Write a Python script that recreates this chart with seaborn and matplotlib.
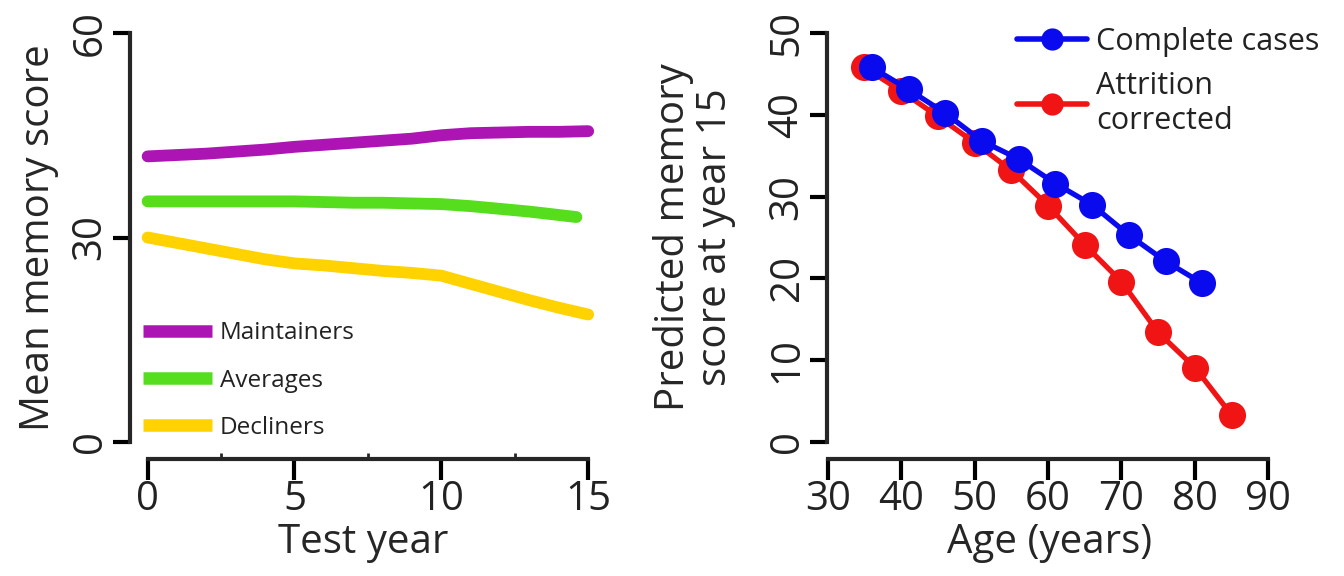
import numpy as np
import pandas as pd
import matplotlib
matplotlib.use("Agg")
import matplotlib.pyplot as plt
import seaborn as sns
from matplotlib.lines import Line2D

# ---------------- data ----------------
test_year = list(range(16))
maintainers = [41.9, 42.1, 42.3, 42.6, 42.9, 43.3, 43.6, 43.9, 44.2, 44.5, 45.0, 45.3, 45.4, 45.5, 45.5, 45.6]
averages_year = [0, 1, 2, 3, 4, 5, 6, 7, 8, 9, 10, 11, 12, 13, 14, 14.6]
averages = [35.3, 35.3, 35.3, 35.3, 35.3, 35.3, 35.2, 35.1, 35.1, 35.0, 34.9, 34.6, 34.2, 33.8, 33.3, 33.0]
decliners = [30.0, 29.2, 28.4, 27.6, 26.8, 26.2, 25.9, 25.5, 25.1, 24.8, 24.4, 23.2, 22.0, 20.8, 19.7, 18.7]

age_complete = [36, 41, 46, 51, 56, 61, 66, 71, 76, 81]
score_complete = [45.8, 43.1, 40.2, 36.8, 34.6, 31.6, 29.0, 25.3, 22.1, 19.4]
age_attrition = [35, 40, 45, 50, 55, 60, 65, 70, 75, 80, 85]
score_attrition = [45.8, 42.9, 39.8, 36.6, 33.2, 28.9, 24.1, 19.6, 13.4, 9.1, 3.3]

left_groups = ["Maintainers", "Averages", "Decliners"]
left_colors = ["#AC14B4", "#55DD1E", "#FFD200"]
right_groups = ["Complete cases", "Attrition\ncorrected"]
right_colors = ["#0A0AEE", "#F01414"]

df_left = pd.concat([
    pd.DataFrame({"year": test_year, "score": maintainers, "group": "Maintainers"}),
    pd.DataFrame({"year": averages_year, "score": averages, "group": "Averages"}),
    pd.DataFrame({"year": test_year, "score": decliners, "group": "Decliners"}),
])
df_right = pd.concat([
    pd.DataFrame({"age": age_attrition, "score": score_attrition, "group": right_groups[1]}),
    pd.DataFrame({"age": age_complete, "score": score_complete, "group": right_groups[0]}),
])

sns.set_theme(style="ticks")
plt.rcParams["font.family"] = ["Open Sans", "DejaVu Sans"]
plt.rcParams["text.color"] = "#222222"

fig = plt.figure(figsize=(13.44, 5.76), dpi=100)
W, H = 1344, 576
ax1 = fig.add_axes([130 / W, (576 - 442) / H, 467 / W, 409 / H])
ax2 = fig.add_axes([827 / W, (576 - 442) / H, 445 / W, 409 / H])

# ---------------- left panel ----------------
sns.lineplot(data=df_left, x="year", y="score", hue="group", hue_order=left_groups,
             palette=left_colors, linewidth=8.5, ax=ax1, legend=False, solid_capstyle="round")
ax1.set_xlim(-0.6, 15.3)
ax1.set_ylim(0, 60)
ax1.set_xticks([0, 5, 10, 15])
ax1.set_xticks([2.5, 7.5, 12.5], minor=True)
ax1.set_yticks([0, 30, 60])
ax1.set_xlabel("Test year", fontsize=29, labelpad=2)
ax1.set_ylabel("Mean memory score", fontsize=29, labelpad=8)
handles = [Line2D([], [], color=c, lw=9, solid_capstyle="butt") for c in left_colors]
ax1.legend(handles, left_groups, loc="lower left", bbox_to_anchor=(0.007, -0.018), frameon=False,
           fontsize=17.5, handlelength=2.85, handletextpad=0.3, labelspacing=0.95, borderaxespad=0)

# ---------------- right panel ----------------
sns.lineplot(data=df_right, x="age", y="score", hue="group",
             hue_order=[right_groups[1], right_groups[0]],
             palette=[right_colors[1], right_colors[0]], linewidth=3.8, marker="o",
             markersize=19.5, markeredgewidth=0, ax=ax2, legend=False)
for ln in ax2.lines:
    ln.set_clip_on(False)
ax2.set_xlim(29.9, 90.5)
ax2.set_ylim(0, 50)
ax2.set_xticks([30, 40, 50, 60, 70, 80, 90])
ax2.set_yticks([0, 10, 20, 30, 40, 50])
ax2.set_xlabel("Age (years)", fontsize=29, labelpad=2)
ax2.set_ylabel("Predicted memory\nscore at year 15", fontsize=29, labelpad=22, linespacing=1.05)
handles2 = [Line2D([], [], color=c, lw=4, marker="o", markersize=16, markeredgewidth=0) for c in right_colors]
ax2.legend(handles2, right_groups, loc="upper right", bbox_to_anchor=(1.135, 1.045), frameon=False,
           fontsize=22, handlelength=2.3, handletextpad=0.3, labelspacing=0.45, borderaxespad=0)
for t in ax2.get_legend().get_texts():
    t.set_linespacing(1.25)

for ax, xb, yb in [(ax1, (0, 15), (0, 60)), (ax2, (30, 90), (0, 50))]:
    for s in ["top", "right"]:
        ax.spines[s].set_visible(False)
    ax.spines["left"].set_linewidth(3)
    ax.spines["bottom"].set_linewidth(3)
    ax.spines["left"].set_bounds(*yb)
    ax.spines["bottom"].set_bounds(*xb)
    ax.spines["bottom"].set_position(("outward", 12))
    ax.tick_params(axis="both", which="major", labelsize=29, width=3, length=12, color="black",
                   labelcolor="#222222")
    ax.tick_params(axis="y", labelrotation=90, pad=2)
    ax.tick_params(axis="x", pad=0)
    for lab in ax.get_yticklabels():
        lab.set_va("center")
ax1.tick_params(axis="x", which="minor", direction="in", length=4, width=2)
ax2.tick_params(axis="x", which="major", length=15)
ax1.tick_params(axis="x", which="major", length=15)

fig.savefig("out.png", dpi=100)
